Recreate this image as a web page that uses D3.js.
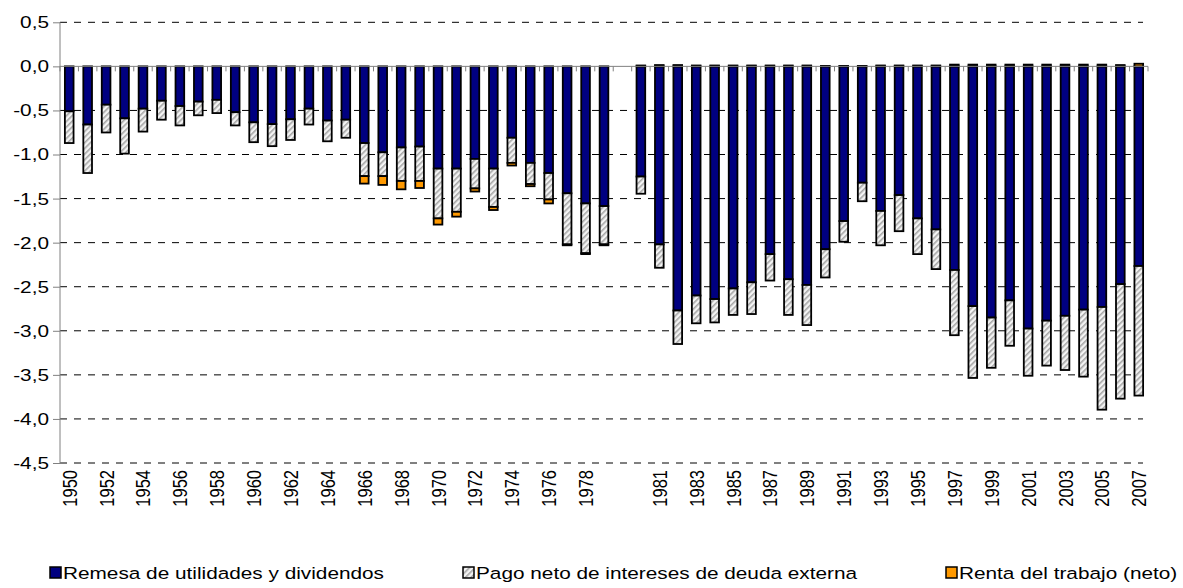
<!DOCTYPE html>
<html>
<head>
<meta charset="utf-8">
<script src="https://cdn.jsdelivr.net/npm/d3@7"></script>
<style>
  body { margin: 0; background: #fff; }
  text { font-family: "Liberation Sans", Arial, sans-serif; fill: #000; }
</style>
</head>
<body>
<div id="chart"></div>
<script>
// categories (one empty slot between 1979 and 1980, as in the original)
var years = ["1950","1951","1952","1953","1954","1955","1956","1957","1958","1959",
  "1960","1961","1962","1963","1964","1965","1966","1967","1968","1969",
  "1970","1971","1972","1973","1974","1975","1976","1977","1978","1979","",
  "1980","1981","1982","1983","1984","1985","1986","1987","1988","1989",
  "1990","1991","1992","1993","1994","1995","1996","1997","1998","1999",
  "2000","2001","2002","2003","2004","2005","2006","2007"];

// Remesa de utilidades y dividendos
var remesa = [-0.51,-0.66,-0.435,-0.59,-0.48,-0.39,-0.45,-0.40,-0.38,-0.52,
  -0.635,-0.655,-0.60,-0.48,-0.615,-0.605,-0.87,-0.975,-0.92,-0.91,
  -1.16,-1.16,-1.05,-1.16,-0.81,-1.095,-1.21,-1.44,-1.555,-1.585,0,
  -1.25,-2.02,-2.77,-2.60,-2.64,-2.52,-2.45,-2.13,-2.415,-2.48,
  -2.075,-1.755,-1.32,-1.64,-1.46,-1.725,-1.85,-2.31,-2.72,-2.85,
  -2.655,-2.975,-2.885,-2.83,-2.76,-2.73,-2.47,-2.265];

// Pago neto de intereses de deuda externa
var intereses = [-0.36,-0.55,-0.315,-0.40,-0.26,-0.215,-0.22,-0.155,-0.15,-0.15,
  -0.225,-0.25,-0.235,-0.18,-0.235,-0.205,-0.375,-0.27,-0.38,-0.39,
  -0.565,-0.49,-0.335,-0.435,-0.285,-0.24,-0.30,-0.58,-0.565,-0.435,0,
  -0.195,-0.265,-0.38,-0.315,-0.265,-0.30,-0.36,-0.30,-0.405,-0.455,
  -0.32,-0.235,-0.21,-0.39,-0.41,-0.405,-0.45,-0.74,-0.815,-0.57,
  -0.515,-0.535,-0.51,-0.615,-0.76,-1.165,-1.30,-1.47];

// Renta del trabajo (neto)
var renta = [0,0,0,0,0,0,0,0,0,0,
  0,0,0,0,0,0,-0.085,-0.10,-0.095,-0.08,
  -0.07,-0.055,-0.035,-0.035,-0.03,-0.025,-0.045,-0.01,-0.01,-0.01,0,
  0.01,0.015,0.015,0.01,0.01,0.01,0.01,0.01,0.01,0.01,
  0.005,0.005,0.005,0.01,0.01,0.01,0.01,0.02,0.02,0.02,
  0.02,0.02,0.02,0.02,0.02,0.02,0.015,0.03];

var yTicks = [0.5,0,-0.5,-1,-1.5,-2,-2.5,-3,-3.5,-4,-4.5];

var seriesNames = ["Remesa de utilidades y dividendos",
  "Pago neto de intereses de deuda externa",
  "Renta del trabajo (neto)"];

function draw_chart(div_id) {
    var W = 1183, H = 588;
    var margin = {left: 60, right: 1148, top: 22.3, bottom: 463};
    var stretch = 1.26, fs = 16.5;

    var svg = d3.select("#" + div_id).append("svg")
        .attr("width", W)
        .attr("height", H);

    var defs = svg.append("defs");
    var hatch = defs.append("pattern")
        .attr("id", "hatch")
        .attr("patternUnits", "userSpaceOnUse")
        .attr("width", 4).attr("height", 4)
        .attr("patternTransform", "rotate(45)");
    hatch.append("rect").attr("width", 4).attr("height", 4).attr("fill", "#f4f4f4");
    hatch.append("rect").attr("width", 1.6).attr("height", 4).attr("fill", "#a6a6a6");

    var fills = ["#000080", "url(#hatch)", "#ff9900"];

    var x = d3.scaleBand()
        .domain(years.map(function(d, i) { return i; }))
        .range([margin.left, margin.right])
        .paddingInner(0.53)
        .paddingOuter(0.265);

    var y = d3.scaleLinear()
        .domain([-4.5, 0.5])
        .range([margin.bottom, margin.top]);

    // dashed grid lines
    svg.append("g").selectAll("line")
        .data(yTicks.filter(function(d) { return d !== 0; }))
        .enter().append("line")
        .attr("x1", margin.left).attr("x2", margin.right - 5)
        .attr("y1", function(d) { return y(d); })
        .attr("y2", function(d) { return y(d); })
        .attr("stroke", "#000")
        .attr("stroke-width", 1)
        .attr("stroke-dasharray", "7,7");

    // y axis
    var yAxis = svg.append("g")
        .attr("transform", "translate(" + margin.left + ",0)")
        .call(d3.axisLeft(y).tickValues(yTicks).tickSize(7).tickFormat(""));
    yAxis.select(".domain").attr("stroke", "#808080")
        .attr("d", "M0," + margin.top + "V" + margin.bottom);
    yAxis.selectAll(".tick line").attr("stroke", "#808080");

    svg.append("g").selectAll("text")
        .data(yTicks)
        .enter().append("text")
        .attr("transform", function(d) {
            return "translate(" + (margin.left - 11) + "," + y(d) + ") scale(" + stretch + ",1)";
        })
        .attr("dy", "0.36em")
        .attr("text-anchor", "end")
        .style("font-size", fs + "px")
        .text(function(d) { return d3.format(".1f")(d).replace(".", ",").replace("\u2212", "-"); });

    // stacked bars
    var rows = years.map(function(d, i) {
        return {i: i, a: remesa[i], b: intereses[i], c: renta[i]};
    });
    var layers = d3.stack()
        .keys(["a", "b", "c"])
        .offset(d3.stackOffsetDiverging)(rows);

    svg.append("g").selectAll("g")
        .data(layers)
        .enter().append("g")
        .attr("fill", function(d, k) { return fills[k]; })
        .selectAll("rect")
        .data(function(d) {
            return d.filter(function(p) { return years[p.data.i] !== "" && p[1] !== p[0]; });
        })
        .enter().append("rect")
        .attr("x", function(d) { return x(d.data.i); })
        .attr("width", x.bandwidth())
        .attr("y", function(d) { return y(Math.max(d[0], d[1])); })
        .attr("height", function(d) { return Math.abs(y(d[0]) - y(d[1])); })
        .attr("stroke", "#000")
        .attr("stroke-width", 1.8);

    // category axis at zero
    var n = years.length;
    var xAxis = svg.append("g")
        .attr("transform", "translate(0," + y(0) + ")");
    xAxis.append("line")
        .attr("x1", margin.left).attr("x2", margin.right)
        .attr("stroke", "#808080");
    xAxis.selectAll(".xt")
        .data(d3.range(n + 1))
        .enter().append("line")
        .attr("x1", function(d) { return margin.left + d * (margin.right - margin.left) / n; })
        .attr("x2", function(d) { return margin.left + d * (margin.right - margin.left) / n; })
        .attr("y1", 0).attr("y2", 5)
        .attr("stroke", "#808080");

    // category labels, every second one
    svg.append("g").selectAll("text")
        .data(years.map(function(d, i) { return {t: d, i: i}; })
            .filter(function(d) { return d.i % 2 === 0 && d.t !== ""; }))
        .enter().append("text")
        .attr("transform", function(d) {
            var cx = x(d.i) + x.bandwidth() / 2;
            return "translate(" + cx + ",470) scale(" + stretch + ",1) rotate(-90)";
        })
        .attr("dy", "0.36em")
        .attr("text-anchor", "end")
        .style("font-size", fs + "px")
        .text(function(d) { return d.t; });

    // legend
    var legX = [50, 463, 946];
    var leg = svg.append("g").selectAll("g")
        .data(seriesNames)
        .enter().append("g")
        .attr("transform", function(d, i) { return "translate(" + legX[i] + ",573)"; });
    leg.append("rect")
        .attr("x", 0).attr("y", -6)
        .attr("width", 11).attr("height", 11)
        .attr("fill", function(d, i) { return fills[i]; })
        .attr("stroke", "#000")
        .attr("stroke-width", 1.5);
    leg.append("text")
        .attr("transform", "translate(13,0) scale(" + stretch + ",1)")
        .attr("dy", "0.36em")
        .style("font-size", fs + "px")
        .text(function(d) { return d; });
}

draw_chart("chart");
</script>
</body>
</html>
